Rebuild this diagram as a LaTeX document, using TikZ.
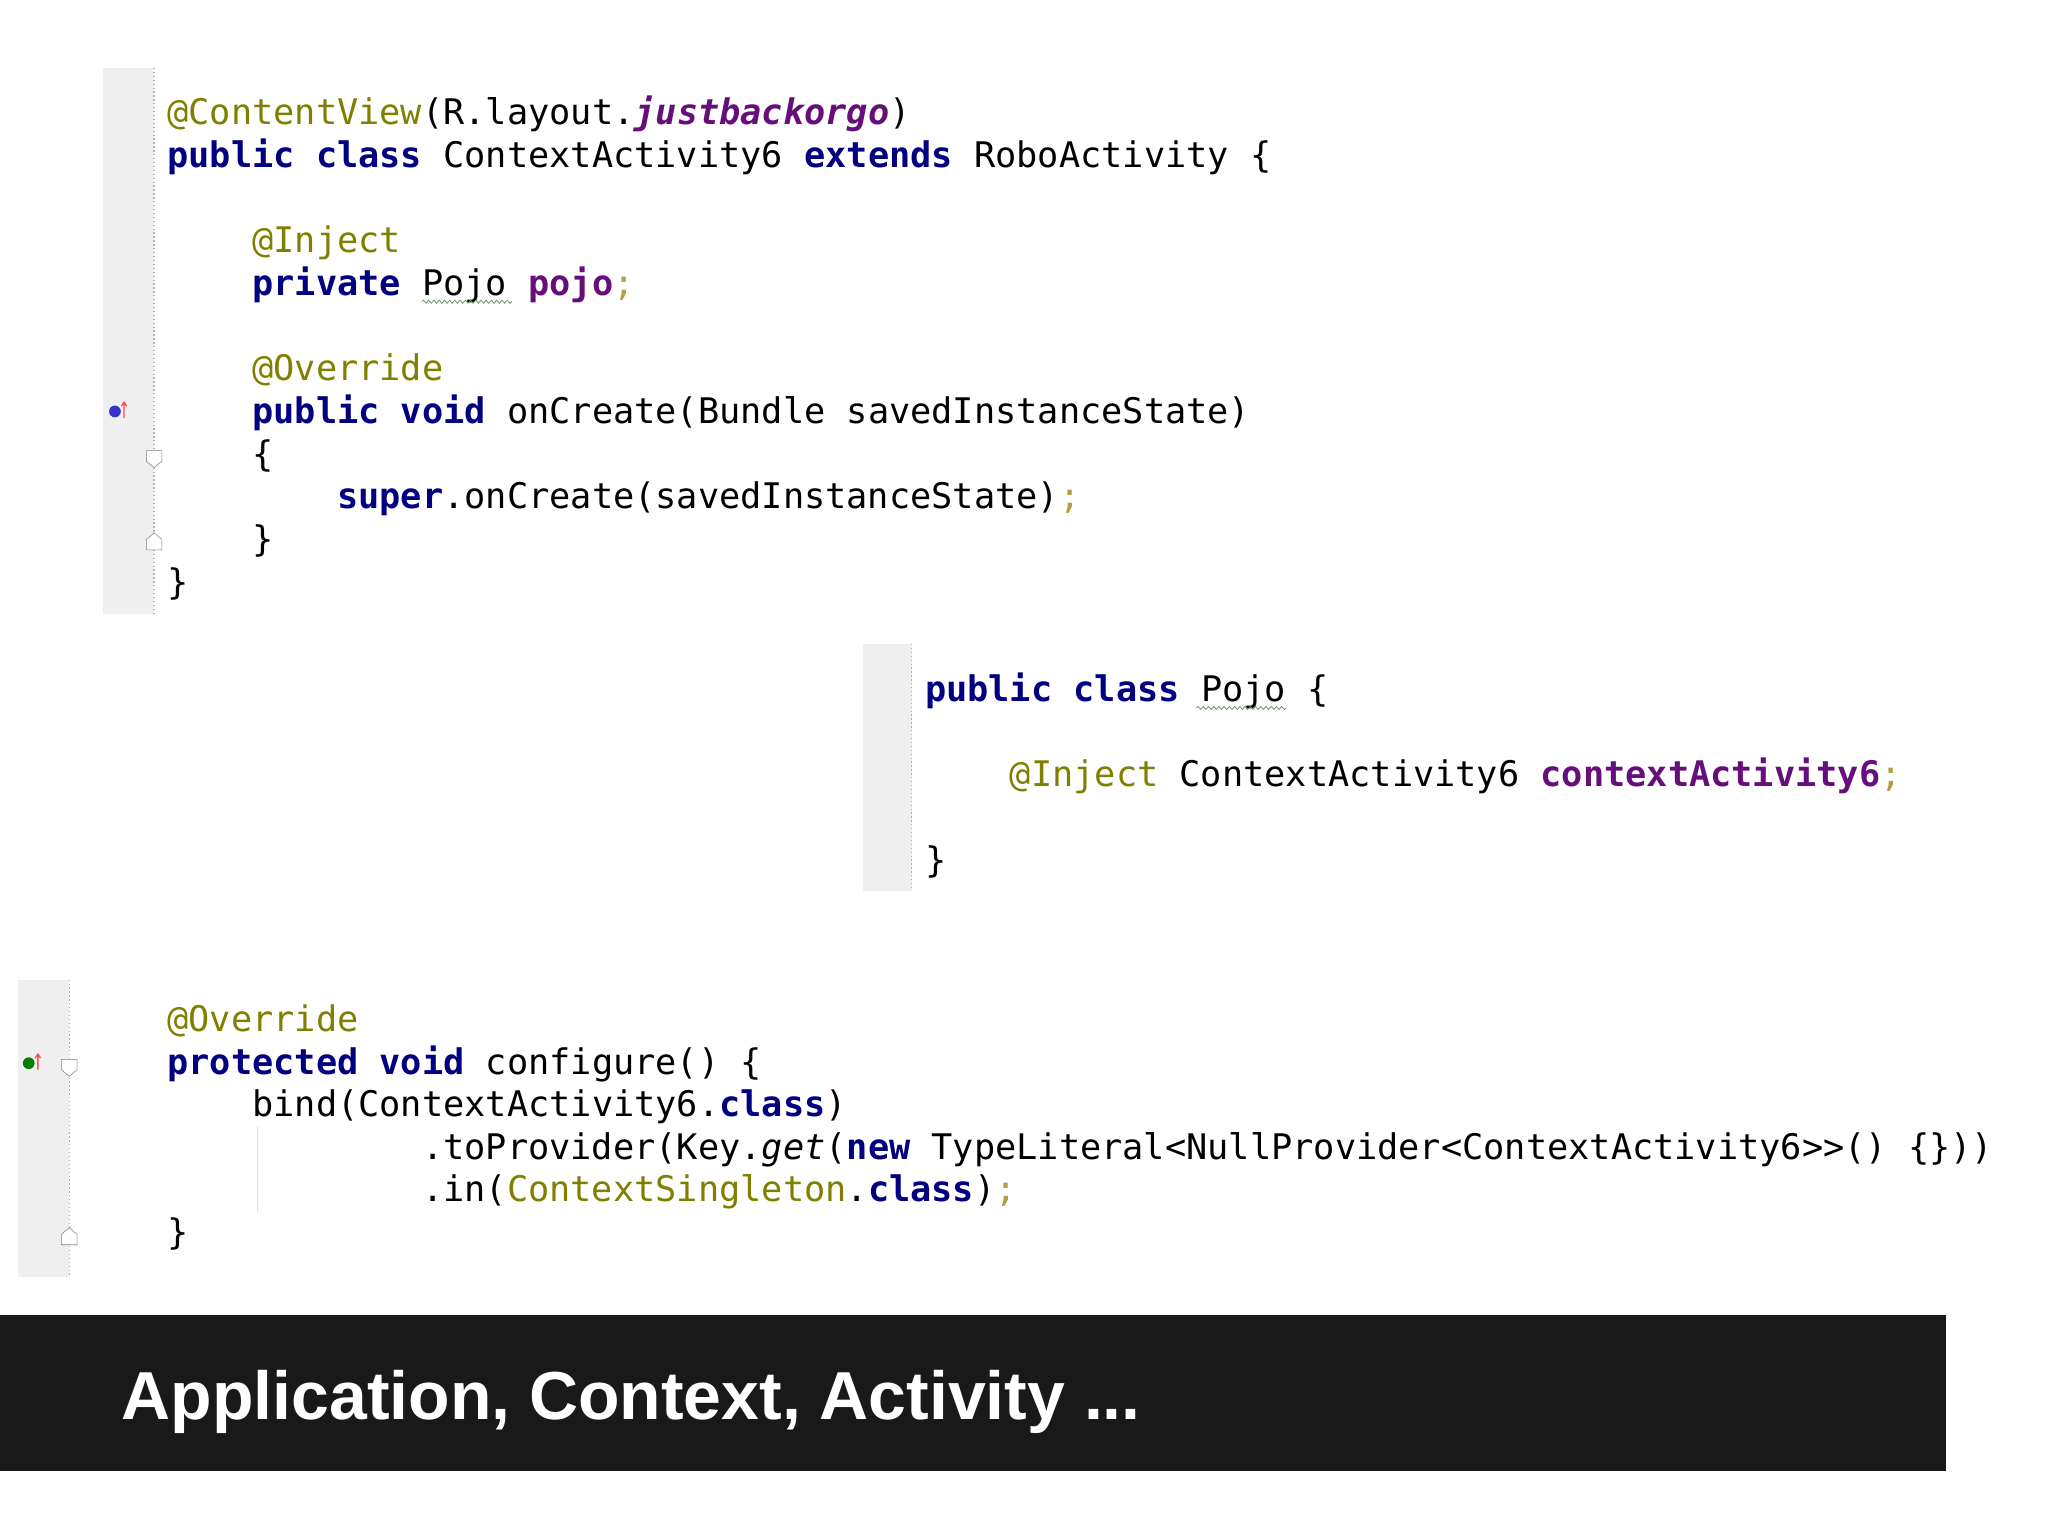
\documentclass[tikz,border=0pt]{standalone}
\usepackage{fontspec}
\setmonofont{DejaVu Sans Mono}
\setsansfont{Liberation Sans}
\usetikzlibrary{decorations.pathmorphing}
\definecolor{kw}{HTML}{000080}
\definecolor{an}{HTML}{808000}
\definecolor{fd}{HTML}{660E7A}
\definecolor{sc}{HTML}{B0A040}
\definecolor{gut}{HTML}{EFEFEF}
\newcommand{\kw}[1]{\textcolor{kw}{\bfseries #1}}
\newcommand{\an}[1]{\textcolor{an}{#1}}
\newcommand{\fd}[1]{\textcolor{fd}{\bfseries #1}}
\newcommand{\sm}{\textcolor{sc}{;}}
\begin{document}
\begin{tikzpicture}[x=1pt,y=-1pt,
  code/.style={anchor=base west,inner sep=0pt,font=\fontsize{27}{27}\ttfamily},
  gutter/.style={fill=gut,draw=none},
  guide/.style={draw=gray!60,dotted,line width=1pt},
  wavy/.style={draw=gray!80!green,line width=0.6pt,decorate,decoration={snake,amplitude=1.2pt,segment length=4pt}}]
\useasboundingbox (0,0) rectangle (1568,1176);
\fill[white] (0,0) rectangle (1568,1176);
% gutters
\fill[gutter] (79,52) rectangle (118,470);
\draw[guide] (118,52) -- (118,470);
\fill[gutter] (661,493) rectangle (698,682);
\draw[guide] (698,493) -- (698,682);
\fill[gutter] (14,750) rectangle (53,978);
\draw[guide] (53,750) -- (53,978);
\draw[gray!25,line width=1pt] (197,862) -- (197,928);
% gutter icons
\foreach \p/\c in {{(88,315)}/blue!60!gray, {(22,814)}/green!50!black}{
  \fill[\c] \p circle (4.5);}
\draw[red!70,line width=1pt] (95,320) -- (95,308) (93,311) -- (95,308) -- (97,311);
\draw[red!70,line width=1pt] (29,819) -- (29,807) (27,810) -- (29,807) -- (31,810);
\foreach \x/\y in {118/351, 53/817}{
  \draw[gray,fill=white] (\x-6,\y-6) -- (\x+6,\y-6) -- (\x+6,\y+2) -- (\x,\y+7) -- (\x-6,\y+2) -- cycle;}
\foreach \x/\y in {118/415, 53/947}{
  \draw[gray,fill=white] (\x-6,\y+6) -- (\x+6,\y+6) -- (\x+6,\y-2) -- (\x,\y-7) -- (\x-6,\y-2) -- cycle;}
% block 1
\node[code] (l1) at (128,95) {\an{@ContentView}(R.layout.\textcolor{fd}{\bfseries\itshape justbackorgo})};
\node[code] (l2) at (128,128) {\kw{public class} ContextActivity6 \kw{extends} RoboActivity \{};
\node[code] (l3) at (193,193) {\an{@Inject}};
\node[code] (l4) at (193,226) {\kw{private} Pojo \fd{pojo}\sm};
\node[code] (l5) at (193,291) {\an{@Override}};
\node[code] (l6) at (193,324) {\kw{public void} onCreate(Bundle savedInstanceState)};
\node[code] (l7) at (193,357) {\{};
\node[code] (l8) at (258,389) {\kw{super}.onCreate(savedInstanceState)\sm};
\node[code] (l9) at (193,422) {\}};
\node[code] (l10) at (128,455) {\}};
\draw[wavy] (323,231) -- (392,231);
% block 2
\node[code] (p1) at (708,537) {\kw{public class} Pojo \{};
\node[code] (p2) at (773,602) {\an{@Inject} ContextActivity6 \fd{contextActivity6}\sm};
\node[code] (p3) at (708,668) {\}};
\draw[wavy] (916,542) -- (985,542);
% block 3
\node[code] (c1) at (128,790) {\an{@Override}};
\node[code] (c2) at (128,823) {\kw{protected void} configure() \{};
\node[code] (c3) at (193,855) {bind(ContextActivity6.\kw{class})};
\node[code] (c4) at (323,888) {.toProvider(Key.\textit{get}(\kw{new} TypeLiteral<NullProvider<ContextActivity6>{}>() \{\}))};
\node[code] (c5) at (323,920) {.in(\an{ContextSingleton}.\kw{class})\sm};
\node[code] (c6) at (128,953) {\}};
% banner
\fill[black!90] (0,1007) rectangle (1490,1126);
\node[anchor=base west,inner sep=0pt,text=white,font=\fontsize{52}{52}\sffamily\bfseries] (title) at (93,1087) {Application, Context, Activity ...};
\end{tikzpicture}
\end{document}
